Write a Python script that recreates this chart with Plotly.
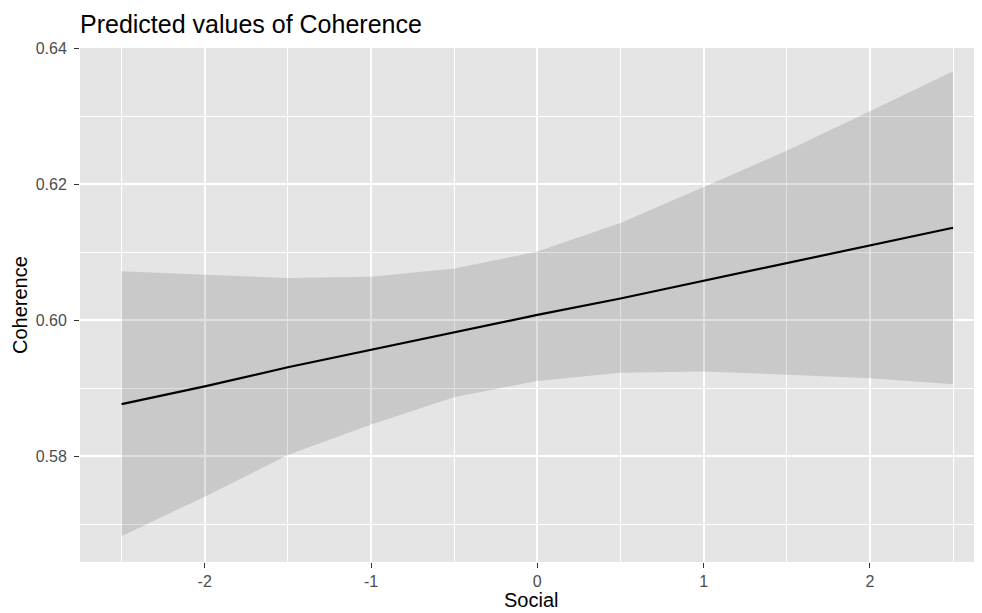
import plotly.graph_objects as go

social = [-2.5, -2.0, -1.5, -1.0, -0.5, 0.0, 0.5, 1.0, 1.5, 2.0, 2.5]
predicted = [0.5877, 0.5903, 0.5931, 0.5957, 0.5983, 0.6008, 0.6032, 0.6058, 0.6084, 0.6111, 0.6136]
conf_high = [0.6072, 0.6067, 0.6062, 0.6064, 0.6076, 0.6101, 0.6143, 0.6196, 0.6249, 0.6307, 0.6366]
conf_low = [0.5683, 0.5741, 0.5802, 0.5847, 0.5887, 0.5911, 0.5923, 0.5925, 0.5920, 0.5915, 0.5906]

x_ticks = [-2, -1, 0, 1, 2]
y_ticks = [0.58, 0.60, 0.62, 0.64]

FONT = "Liberation Sans, Arial, Helvetica, sans-serif"
# page body has an 8px margin: size the figure to fill the rest of the window
W, H = 974, 605
L, T, B = 72, 40, 51
PW, PH = W - L, H - T - B

fig = go.Figure()
fig.add_trace(go.Scatter(x=social, y=conf_high, mode="lines", line=dict(width=0),
                         hoverinfo="skip", showlegend=False))
fig.add_trace(go.Scatter(x=social, y=conf_low, mode="lines", line=dict(width=0),
                         fill="tonexty", fillcolor="rgba(0,0,0,0.12)",
                         hoverinfo="skip", showlegend=False))
fig.add_trace(go.Scatter(x=social, y=predicted, mode="lines",
                         line=dict(color="black", width=2.2), showlegend=False))

fig.update_layout(
    width=W, height=H,
    margin=dict(l=L, r=0, t=T, b=B, autoexpand=False),
    paper_bgcolor="white",
    plot_bgcolor="#E5E5E5",
    font=dict(family=FONT, color="#4D4D4D"),
    title=dict(text="Predicted values of Coherence", x=0, xref="paper", xanchor="left",
               y=1 - 16 / H, yref="container", yanchor="middle",
               font=dict(family=FONT, size=25, color="black")),
    annotations=[
        dict(text="Social", xref="paper", yref="paper", x=0.5, y=-(592 - (T + PH)) / PH,
             xanchor="center", yanchor="middle", showarrow=False,
             font=dict(family=FONT, size=20, color="black")),
        dict(text="Coherence", xref="paper", yref="paper", x=-(L - 12) / PW, y=0.5,
             xanchor="center", yanchor="middle", textangle=-90, showarrow=False,
             font=dict(family=FONT, size=20, color="black")),
    ],
)

fig.update_xaxes(
    range=[-2.75, 2.674], automargin=False,
    tickvals=x_ticks, ticktext=[str(v) for v in x_ticks],
    ticks="outside", ticklen=5, tickwidth=1.2, tickcolor="#333333",
    tickfont=dict(size=16, color="#4D4D4D"),
    showgrid=True, gridcolor="white", gridwidth=2,
    minor=dict(dtick=0.5, showgrid=True, gridcolor="white", gridwidth=1, ticks=""),
    zeroline=False, showline=False,
)
fig.update_yaxes(
    range=[0.5645, 0.6400], automargin=False,
    tickvals=y_ticks, ticktext=[f"{v:.2f}" for v in y_ticks],
    ticks="outside", ticklen=5, tickwidth=1.2, tickcolor="#333333",
    tickfont=dict(size=16, color="#4D4D4D"), ticklabelstandoff=4,
    showgrid=True, gridcolor="white", gridwidth=2,
    minor=dict(tickvals=[0.57, 0.59, 0.61, 0.63], showgrid=True, gridcolor="white", gridwidth=1, ticks=""),
    zeroline=False, showline=False,
)

fig.write_html("out.html")
